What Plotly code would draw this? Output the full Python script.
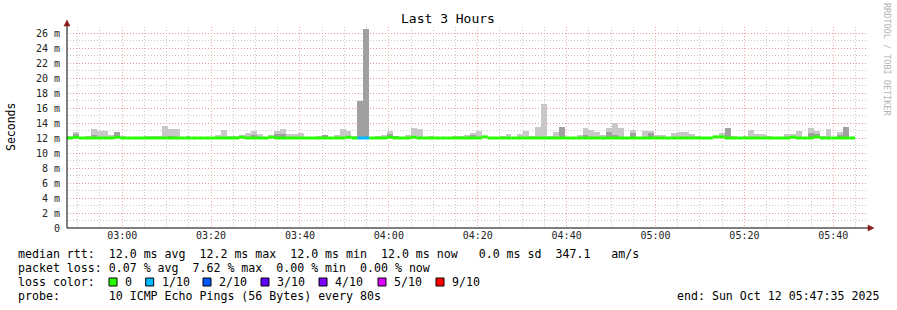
import datetime as dt
import plotly.graph_objects as go

# ---------------- data ----------------
START = "2025-10-12 02:47:35"
END = "2025-10-12 05:47:35"
BIN_SECONDS = 80

# max ping per bin (ms) - top of light smoke
smoke_max = [
    12.27, 12.8, 12.0, 12.27, 13.2, 12.93, 12.9, 12.4, 12.8, 12.27,
    12.0, 12.0, 12.0, 12.27, 12.27, 12.27, 13.6, 13.2, 13.2, 12.0,
    12.27, 12.0, 12.0, 12.0, 12.0, 12.36, 13.07, 12.2, 12.2, 12.4,
    12.67, 12.93, 12.53, 12.0, 12.4, 12.93, 13.2, 12.53, 12.53, 12.67,
    12.0, 12.0, 12.27, 12.4, 12.0, 12.4, 13.2, 12.93, 12.2, 16.93,
    26.6, 12.0, 12.27, 12.4, 12.93, 12.27, 12.0, 12.4, 13.33, 13.2,
    12.0, 12.27, 12.0, 12.0, 12.0, 12.27, 12.27, 12.4, 12.67, 12.93,
    12.0, 12.0, 12.0, 12.27, 12.53, 12.0, 12.53, 12.93, 12.27, 13.47,
    16.53, 12.27, 12.8, 13.47, 12.0, 12.0, 12.4, 13.33, 13.07, 12.8,
    12.4, 13.33, 14.0, 13.33, 12.0, 13.07, 12.0, 12.93, 12.93, 12.4,
    12.4, 12.0, 12.67, 12.8, 12.8, 12.53, 12.27, 12.0, 12.0, 12.0,
    12.67, 13.33, 12.27, 12.0, 12.27, 13.07, 12.53, 12.53, 12.27, 12.0,
    12.0, 12.53, 12.53, 12.93, 12.0, 13.33, 12.93, 12.27, 13.2, 12.0,
    12.8, 13.47, 12.0, None, None,
]

# inner (denser) smoke per bin (ms)
smoke_inner = [
    12.0, 12.6, 12.0, 12.0, 12.4, 12.0, 12.0, 12.0, 12.8, 12.0,
    12.0, 12.0, 12.0, 12.0, 12.0, 12.0, 12.0, 12.3, 12.0, 12.0,
    12.0, 12.0, 12.0, 12.0, 12.0, 12.0, 12.0, 12.0, 12.0, 12.0,
    12.0, 12.4, 12.0, 12.0, 12.0, 12.53, 12.53, 12.0, 12.0, 12.0,
    12.0, 12.0, 12.0, 12.4, 12.0, 12.0, 12.0, 12.0, 12.0, 16.93,
    26.6, 12.0, 12.0, 12.0, 12.53, 12.27, 12.0, 12.0, 12.0, 12.0,
    12.0, 12.0, 12.0, 12.0, 12.0, 12.0, 12.0, 12.0, 12.4, 12.0,
    12.0, 12.0, 12.0, 12.0, 12.0, 12.0, 12.0, 12.0, 12.0, 12.0,
    12.0, 12.0, 12.0, 13.47, 12.0, 12.0, 12.0, 12.4, 12.0, 12.0,
    12.0, 12.8, 12.4, 12.0, 12.0, 12.67, 12.0, 12.0, 12.67, 12.0,
    12.0, 12.0, 12.0, 12.0, 12.0, 12.0, 12.0, 12.0, 12.0, 12.0,
    12.0, 13.33, 12.0, 12.0, 12.0, 12.0, 12.0, 12.0, 12.0, 12.0,
    12.0, 12.0, 12.0, 12.0, 12.0, 12.67, 12.53, 12.0, 12.0, 12.0,
    12.4, 13.47, 12.0, None, None,
]

# median rtt per bin (ms)
median = [
    12.0, 12.1, 12.0, 12.0, 12.0, 12.0, 12.0, 12.0, 12.1, 12.0,
    12.0, 12.0, 12.0, 12.0, 12.0, 12.0, 12.0, 12.0, 12.0, 12.0,
    12.0, 12.0, 12.0, 12.0, 12.0, 12.0, 12.0, 12.0, 12.0, 12.1,
    12.0, 12.0, 12.0, 12.0, 12.1, 12.0, 12.0, 12.0, 12.0, 12.0,
    12.0, 12.0, 12.0, 12.0, 12.0, 12.0, 12.0, 12.1, 12.0, 12.0,
    12.0, 12.0, 12.0, 12.0, 12.1, 12.0, 12.0, 12.0, 12.1, 12.0,
    12.0, 12.0, 12.0, 12.0, 12.0, 12.0, 12.0, 12.0, 12.0, 12.0,
    12.15, 12.0, 12.0, 12.0, 12.0, 12.0, 12.0, 12.0, 12.0, 12.0,
    12.0, 12.0, 12.0, 12.0, 12.0, 12.0, 12.0, 12.0, 12.0, 12.0,
    12.0, 12.0, 12.0, 12.0, 12.0, 12.0, 12.0, 12.0, 12.0, 12.0,
    12.0, 12.0, 12.0, 12.0, 12.0, 12.0, 12.0, 12.0, 12.0, 12.15,
    12.15, 12.0, 12.0, 12.0, 12.0, 12.0, 12.0, 12.0, 12.0, 12.0,
    12.0, 12.0, 12.1, 12.0, 12.0, 12.0, 12.15, 12.0, 12.0, 12.0,
    12.0, 12.0, 12.0, None, None,
]

# lost pings (out of 10) per bin
loss = [0] * 49 + [1, 1] + [0] * 82 + [None, None]

loss_labels = ["0", "1/10", "2/10", "3/10", "4/10", "5/10", "9/10"]
loss_colors = ["#26ff00", "#00b8ff", "#0059ff", "#5e00ff", "#7e00ff", "#dd00ff", "#ff0000"]
loss_levels = [0, 1, 2, 3, 4, 5, 9]

y_ticks = list(range(0, 27, 2))
y_ticktext = ["0"] + [f"{v} m" for v in y_ticks[1:]]

legend_rows = [
    "median rtt:  12.0 ms avg  12.2 ms max  12.0 ms min  12.0 ms now   0.0 ms sd  347.1   am/s",
    "packet loss: 0.07 % avg  7.62 % max  0.00 % min  0.00 % now",
    "loss color:",
    "probe:       10 ICMP Echo Pings (56 Bytes) every 80s",
]
end_text = "end: Sun Oct 12 05:47:35 2025"

# ---------------- figure ----------------
t0 = dt.datetime.strptime(START, "%Y-%m-%d %H:%M:%S")
step = dt.timedelta(seconds=BIN_SECONDS)
n = len(smoke_max)
starts = [t0 + i * step for i in range(n)]
centers = [s + step / 2 for s in starts]
valid = [i for i in range(n) if smoke_max[i] is not None]

fig = go.Figure()

base_val = 12.0
fig.add_trace(go.Bar(
    x=[centers[i] for i in valid],
    y=[smoke_max[i] - base_val for i in valid],
    base=base_val, width=BIN_SECONDS * 1000,
    marker=dict(color="#c8c8c8", line=dict(width=0)),
    hoverinfo="skip",
))
fig.add_trace(go.Bar(
    x=[centers[i] for i in valid],
    y=[smoke_inner[i] - base_val for i in valid],
    base=base_val, width=BIN_SECONDS * 1000,
    marker=dict(color="#a0a0a0", line=dict(width=0)),
    hoverinfo="skip",
))

for lvl, col in zip(loss_levels, loss_colors):
    xs, ys = [], []
    for i in valid:
        if loss[i] == lvl:
            xs += [starts[i], starts[i] + step, None]
            ys += [median[i], median[i], None]
    if xs:
        fig.add_trace(go.Scatter(x=xs, y=ys, mode="lines",
                                 line=dict(color=col, width=3),
                                 hoverinfo="skip", connectgaps=False))

W, H = 897, 310
L, R, T, B = 67, 867, 27, 228


def px(x, y):
    return (x - L) / (R - L), (B - y) / (B - T)


mono = "DejaVu Sans Mono"
ann = []
shapes = []


def add_text(text, x, y, size, xanchor="center", angle=0, color="#000"):
    x_, y_ = px(x, y)
    ann.append(dict(text=text.replace(" ", "&nbsp;"), x=x_, y=y_, xref="paper", yref="paper",
                    xanchor=xanchor, yanchor="middle", textangle=angle, showarrow=False,
                    font=dict(family=mono, size=size, color=color)))


add_text("Last 3 Hours", 448, 19, 13)
add_text("Seconds", 11, 127, 11.5, angle=-90)
add_text("RRDTOOL / TOBI OETIKER", 887, 60, 8.5, angle=90, color="#b4b4b4")

row_y = [254, 268, 282, 296]
for txt, ry in zip(legend_rows, row_y):
    add_text(txt, 16, ry, 11.6, xanchor="left")
add_text(end_text, 881, 296, 11.6, xanchor="right")

sq_x = [109, 145.7, 203, 261, 319, 378, 436]
for sx, lab, col in zip(sq_x, loss_labels, loss_colors):
    a0, b0 = px(sx, 286)
    a1, b1 = px(sx + 8, 278)
    shapes.append(dict(type="rect", xref="paper", yref="paper", x0=a0, y0=b0, x1=a1, y1=b1,
                       fillcolor=col, line=dict(color="#000", width=1)))
    add_text(lab, sx + 14, 282, 11.6, xanchor="left")

# axis lines and arrows
a0, b0 = px(67, 228)
a1, b1 = px(67, 24)
shapes.append(dict(type="line", xref="paper", yref="paper", x0=a0, y0=b0, x1=a1, y1=b1,
                   line=dict(color="#000", width=1)))
a1, b1 = px(869, 228)
shapes.append(dict(type="line", xref="paper", yref="paper", x0=a0, y0=b0, x1=a1, y1=b1,
                   line=dict(color="#000", width=1)))


def tri(points):
    parts = []
    for k, (x, y) in enumerate(points):
        p = px(x, y)
        parts.append(("M" if k == 0 else "L") + f" {p[0]},{p[1]}")
    return " ".join(parts) + " Z"


shapes.append(dict(type="path", xref="paper", yref="paper",
                   path=tri([(64, 26), (67, 20), (70, 26)]),
                   fillcolor="#8b1a1a", line=dict(color="#8b1a1a", width=0.5)))
shapes.append(dict(type="path", xref="paper", yref="paper",
                   path=tri([(868, 225), (874, 228), (868, 231)]),
                   fillcolor="#8b1a1a", line=dict(color="#8b1a1a", width=0.5)))

red_grid = "rgba(240,130,130,0.7)"
gray_grid = "rgba(170,170,170,0.65)"

fig.update_layout(
    width=W, height=H,
    margin=dict(l=L, r=W - R, t=T, b=H - B),
    paper_bgcolor="white", plot_bgcolor="white",
    showlegend=False, barmode="overlay", bargap=0,
    annotations=ann, shapes=shapes,
    xaxis=dict(
        type="date", range=[START, END],
        tick0="2025-10-12 03:00:00", dtick=20 * 60 * 1000, tickformat="%H:%M",
        showgrid=True, gridcolor=red_grid, griddash="1px,2px", gridwidth=1,
        minor=dict(dtick=5 * 60 * 1000, showgrid=True, gridcolor=gray_grid, griddash="1px,2px"),
        showline=False, zeroline=False, ticks="",
        tickfont=dict(family=mono, size=10, color="#222"),
    ),
    yaxis=dict(
        range=[0, 26.8], tickvals=y_ticks, ticktext=y_ticktext,
        showgrid=True, gridcolor=red_grid, griddash="1px,2px", gridwidth=1,
        minor=dict(dtick=1, tick0=0, showgrid=True, gridcolor=gray_grid, griddash="1px,2px"),
        showline=False, zeroline=False, ticks="", ticklabelstandoff=6,
        tickfont=dict(family=mono, size=10, color="#222"),
    ),
)

fig.write_html("out.html")
